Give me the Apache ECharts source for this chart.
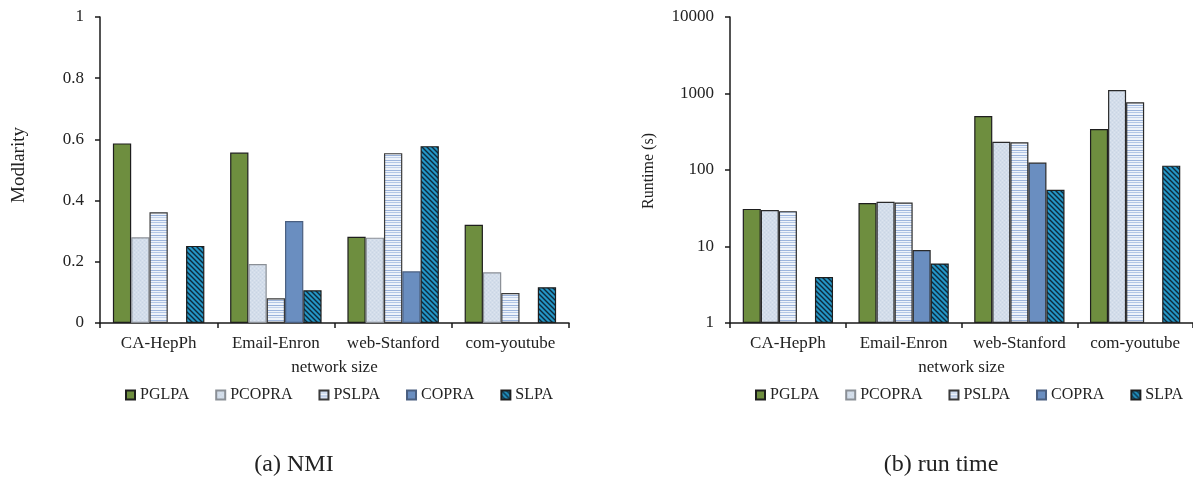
<!DOCTYPE html>
<html>
<head>
<meta charset="utf-8">
<script src="https://cdn.jsdelivr.net/npm/echarts@6/dist/echarts.min.js"></script>
<style>
  html, body { margin: 0; padding: 0; background: #fff; }
  #chart { width: 1193px; height: 478px; }
</style>
</head>
<body>
<div id="chart"></div>
<script>
// Networks on the category axis
const categories = ['CA-HepPh', 'Email-Enron', 'web-Stanford', 'com-youtube'];
const algorithms = ['PGLPA', 'PCOPRA', 'PSLPA', 'COPRA', 'SLPA'];

// (a) modularity per algorithm (null = not reported)
const nmiPGLPA  = [0.587, 0.557, 0.282, 0.321];
const nmiPCOPRA = [0.280, 0.193, 0.279, 0.166];
const nmiPSLPA  = [0.362, 0.081, 0.555, 0.098];
const nmiCOPRA  = [null, 0.333, 0.169, null];
const nmiSLPA   = [0.252, 0.107, 0.578, 0.117];

// (b) runtime in seconds (null = not reported)
const timePGLPA  = [31, 37, 508, 344];
const timePCOPRA = [30, 38.5, 234, 1111];
const timePSLPA  = [29, 37.5, 230, 767];
const timeCOPRA  = [null, 9, 125, null];
const timeSLPA   = [4, 6, 55, 114];

const FONT = 'Liberation Serif';

function makeCanvas(w, h, draw) {
  const c = document.createElement('canvas');
  c.width = w; c.height = h;
  draw(c.getContext('2d'), w, h);
  return { image: c, repeat: 'repeat' };
}

// fine stipple for PCOPRA
const fillPCOPRA = makeCanvas(4, 4, (g, w, h) => {
  g.fillStyle = '#d3ddea'; g.fillRect(0, 0, w, h);
  g.fillStyle = '#c9d5e5'; g.fillRect(0, 0, 1, 1); g.fillRect(2, 2, 1, 1);
  g.fillStyle = '#dde5f0'; g.fillRect(2, 0, 1, 1); g.fillRect(0, 2, 1, 1);
});
// horizontal stripes for PSLPA
const fillPSLPA = makeCanvas(4, 10, (g, w, h) => {
  g.fillStyle = '#eef3fa'; g.fillRect(0, 0, w, h);
  g.fillStyle = '#9db5dd'; g.fillRect(0, 0, w, 1);
  g.fillStyle = '#b3c7e6'; g.fillRect(0, 2, w, 1);
  g.fillStyle = '#98b1db'; g.fillRect(0, 5, w, 1);
  g.fillStyle = '#c2d2eb'; g.fillRect(0, 7, w, 1);
});
// diagonal hatch for SLPA
const fillSLPA = makeCanvas(5, 5, (g, w, h) => {
  g.fillStyle = '#2496c6'; g.fillRect(0, 0, w, h);
  g.strokeStyle = '#0d2a3c'; g.lineWidth = 1.4;
  g.beginPath();
  g.moveTo(-1, -1); g.lineTo(w + 1, h + 1);
  g.moveTo(-1, h - 1); g.lineTo(1, h + 1);
  g.moveTo(w - 1, -1); g.lineTo(w + 1, 1);
  g.stroke();
});

const styles = {
  PGLPA:  { color: '#6e8e3f', borderColor: '#1e1e1e' },
  PCOPRA: { color: fillPCOPRA, borderColor: '#8a8f96' },
  PSLPA:  { color: fillPSLPA, borderColor: '#3a3a3a' },
  COPRA:  { color: '#6a8ec0', borderColor: '#4a5f80' },
  SLPA:   { color: fillSLPA, borderColor: '#1e1e1e' }
};
const stylesRight = {
  PGLPA:  { color: '#6e8e3f', borderColor: '#1e1e1e' },
  PCOPRA: { color: fillPCOPRA, borderColor: '#2a2a2a' },
  PSLPA:  { color: fillPSLPA, borderColor: '#2a2a2a' },
  COPRA:  { color: '#6a8ec0', borderColor: '#2a2a2a' },
  SLPA:   { color: fillSLPA, borderColor: '#1e1e1e' }
};

const nmiData = [nmiPGLPA, nmiPCOPRA, nmiPSLPA, nmiCOPRA, nmiSLPA];
const timeData = [timePGLPA, timePCOPRA, timePSLPA, timeCOPRA, timeSLPA];

const axisLineStyle = { color: '#1a1a1a', width: 1.5 };
const labelStyle = { fontFamily: FONT, fontSize: 17, color: '#222' };

function xAxisFor(gridIndex) {
  return {
    type: 'category', gridIndex, data: categories,
    axisLine: { lineStyle: axisLineStyle },
    axisTick: { show: true, length: 5, lineStyle: axisLineStyle, interval: 0 },
    axisLabel: { fontFamily: FONT, fontSize: 17, color: '#222', margin: 12, interval: 0 },
    name: 'network size', nameLocation: 'middle', nameGap: 36,
    nameTextStyle: { fontFamily: FONT, fontSize: 17, color: '#222' }
  };
}

const series = [];
algorithms.forEach((name, i) => {
  series.push({
    name, type: 'bar', xAxisIndex: 0, yAxisIndex: 0,
    data: nmiData[i], barGap: '0%', barCategoryGap: '22%',
    itemStyle: Object.assign({ borderWidth: 1.2 }, styles[name])
  });
});
algorithms.forEach((name, i) => {
  series.push({
    name, type: 'bar', xAxisIndex: 1, yAxisIndex: 1,
    data: timeData[i], barGap: '0%', barCategoryGap: '22%',
    itemStyle: Object.assign({ borderWidth: 1.2 }, stylesRight[name])
  });
});

function legendAt(left) {
  return {
    left, top: 387, padding: 0, orient: 'horizontal',
    itemWidth: 9, itemHeight: 9, itemGap: 26, icon: 'rect',
    textStyle: { fontFamily: FONT, fontSize: 16, color: '#222' },
    data: algorithms, selectedMode: false
  };
}

const chart = echarts.init(document.getElementById('chart'), null, { renderer: 'canvas' });
chart.setOption({
  animation: false,
  backgroundColor: '#fff',
  grid: [
    { left: 100, top: 17, width: 469, height: 306 },
    { left: 730, top: 17, width: 469, height: 306 }
  ],
  xAxis: [xAxisFor(0), xAxisFor(1)],
  yAxis: [
    {
      type: 'value', gridIndex: 0, min: 0, max: 1, interval: 0.2,
      axisLine: { show: true, lineStyle: axisLineStyle },
      axisTick: { show: true, length: 5, lineStyle: axisLineStyle },
      axisLabel: Object.assign({ margin: 16 }, labelStyle),
      splitLine: { show: false }
    },
    {
      type: 'log', logBase: 10, gridIndex: 1, min: 1, max: 10000,
      axisLine: { show: true, lineStyle: axisLineStyle },
      axisTick: { show: true, length: 5, lineStyle: axisLineStyle },
      axisLabel: Object.assign({ margin: 16, formatter: v => String(Math.round(v)) }, labelStyle),
      splitLine: { show: false }, minorTick: { show: false }
    }
  ],
  legend: [legendAt(125), legendAt(755)],
  graphic: [
    { type: 'text', x: 19, y: 165, rotation: Math.PI / 2,
      style: { text: 'Modlarity', font: '19px "' + FONT + '"', fill: '#222', align: 'center', verticalAlign: 'middle' } },
    { type: 'text', x: 649, y: 171, rotation: Math.PI / 2,
      style: { text: 'Runtime (s)', font: '16px "' + FONT + '"', fill: '#222', align: 'center', verticalAlign: 'middle' } },
    { type: 'text', x: 294, y: 465,
      style: { text: '(a) NMI', font: '24px "' + FONT + '"', fill: '#222', align: 'center', verticalAlign: 'middle' } },
    { type: 'text', x: 941, y: 465,
      style: { text: '(b) run time', font: '24px "' + FONT + '"', fill: '#222', align: 'center', verticalAlign: 'middle' } }
  ],
  series
});
</script>
</body>
</html>
